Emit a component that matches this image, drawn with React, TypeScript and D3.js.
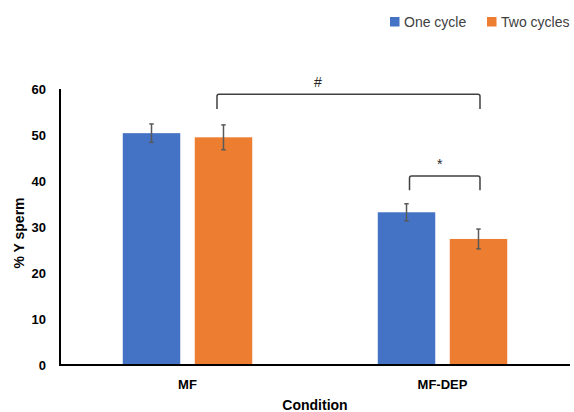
import React from "react";
import * as d3 from "d3";

const categories = ["MF", "MF-DEP"];
const seriesNames = ["One cycle", "Two cycles"];
const oneCycle = [50.4, 33.2];
const twoCycles = [49.5, 27.4];
const oneCycleErr = [2.0, 1.85];
const twoCyclesErr = [2.7, 2.15];
const yTicks = [0, 10, 20, 30, 40, 50, 60];
const colors = ["#4472C4", "#ED7D31"];
// brackets: [category index, series index] from -> to, top value, leg bottom value, label
const brackets = [
  { from: [0, 1], to: [1, 1], top: 58.85, bottom: 55.65, label: "#" },
  { from: [1, 0], to: [1, 1], top: 41.1, bottom: 38.0, label: "*" },
];

const W = 574;
const H = 412;
const FONT = "'Liberation Sans', Arial, sans-serif";

export default function App() {
  const x0 = 60;
  const x1 = 570;
  const yBase = 365;
  const yTop = 89;
  const x = d3.scaleBand<string>().domain(categories).range([x0, x1]).paddingInner(0).paddingOuter(0);
  const xSub = d3.scaleBand<string>().domain(seriesNames).range([0, x.bandwidth()]).paddingInner(0.2014).paddingOuter(0.872);
  const y = d3.scaleLinear().domain([0, 60]).range([yBase, yTop]);
  const values = [oneCycle, twoCycles];
  const errs = [oneCycleErr, twoCyclesErr];
  const bw = xSub.bandwidth();
  const cx = (ci: number, si: number) => (x(categories[ci]) as number) + (xSub(seriesNames[si]) as number) + bw / 2;

  return (
    <div style={{ position: "absolute", left: 0, top: 0 }}>
      <svg width={W} height={H} style={{ display: "block", background: "#fff" }}>
        {/* legend */}
        {seriesNames.map((s, i) => {
          const lx = [390, 487][i];
          return (
            <g key={s}>
              <rect x={lx} y={17} width={9.5} height={9.5} fill={colors[i]} />
              <text x={lx + 14} y={26.5} fontFamily={FONT} fontSize={14} fill="#404040">{s}</text>
            </g>
          );
        })}
        {/* bars */}
        {seriesNames.map((s, si) =>
          categories.map((c, ci) => {
            const v = values[si][ci];
            const bx = (x(c) as number) + (xSub(s) as number);
            return <rect key={s + c} x={bx} y={y(v)} width={bw} height={yBase - y(v)} fill={colors[si]} />;
          })
        )}
        {/* error bars */}
        {seriesNames.map((s, si) =>
          categories.map((c, ci) => {
            const v = values[si][ci];
            const e = errs[si][ci];
            const ex = cx(ci, si);
            return (
              <g key={"e" + s + c} stroke="#595959" strokeWidth={1.5}>
                <line x1={ex} x2={ex} y1={y(v + e)} y2={y(v - e)} />
                <line x1={ex - 2.2} x2={ex + 2.2} y1={y(v + e)} y2={y(v + e)} />
                <line x1={ex - 2.2} x2={ex + 2.2} y1={y(v - e)} y2={y(v - e)} />
              </g>
            );
          })
        )}
        {/* brackets */}
        {brackets.map((b, i) => {
          const xa = cx(b.from[0], b.from[1]) + (i === 0 ? -6.5 : 3);
          const xb = cx(b.to[0], b.to[1]) + 1.5;
          const yt = y(b.top);
          const yb = y(b.bottom);
          const lx = i === 0 ? (x0 + x1) / 2 + 3 : (xa + xb) / 2 - 5;
          return (
            <g key={"b" + i}>
              <path
                d={`M${xa},${yb} L${xa},${yt + 2} Q${xa},${yt} ${xa + 2},${yt} L${xb - 2},${yt} Q${xb},${yt} ${xb},${yt + 2} L${xb},${yb}`}
                fill="none"
                stroke="#404040"
                strokeWidth={1.5}
              />
              <text x={lx} y={yt - 7} textAnchor="middle" fontFamily={FONT} fontSize={14} fill="#262626">{b.label}</text>
            </g>
          );
        })}
        {/* axes */}
        <line x1={x0} x2={x0} y1={yTop} y2={yBase + 1} stroke="#000" strokeWidth={2} />
        <line x1={x0 - 1} x2={x1} y1={yBase} y2={yBase} stroke="#000" strokeWidth={2} />
        {yTicks.map((t) => (
          <text key={t} x={46} y={y(t)} dy="0.35em" textAnchor="end" fontFamily={FONT} fontWeight="bold" fontSize={13} fill="#000">{t}</text>
        ))}
        {categories.map((c) => (
          <text key={c} x={(x(c) as number) + x.bandwidth() / 2} y={389} textAnchor="middle" fontFamily={FONT} fontWeight="bold" fontSize={13} fill="#000">{c}</text>
        ))}
        <text x={(x0 + x1) / 2} y={410} textAnchor="middle" fontFamily={FONT} fontWeight="bold" fontSize={14} fill="#000">Condition</text>
        <text transform={`translate(24,${(yTop + yBase) / 2 + 6}) rotate(-90)`} textAnchor="middle" fontFamily={FONT} fontWeight="bold" fontSize={14} fill="#000">% Y sperm</text>
      </svg>
    </div>
  );
}
